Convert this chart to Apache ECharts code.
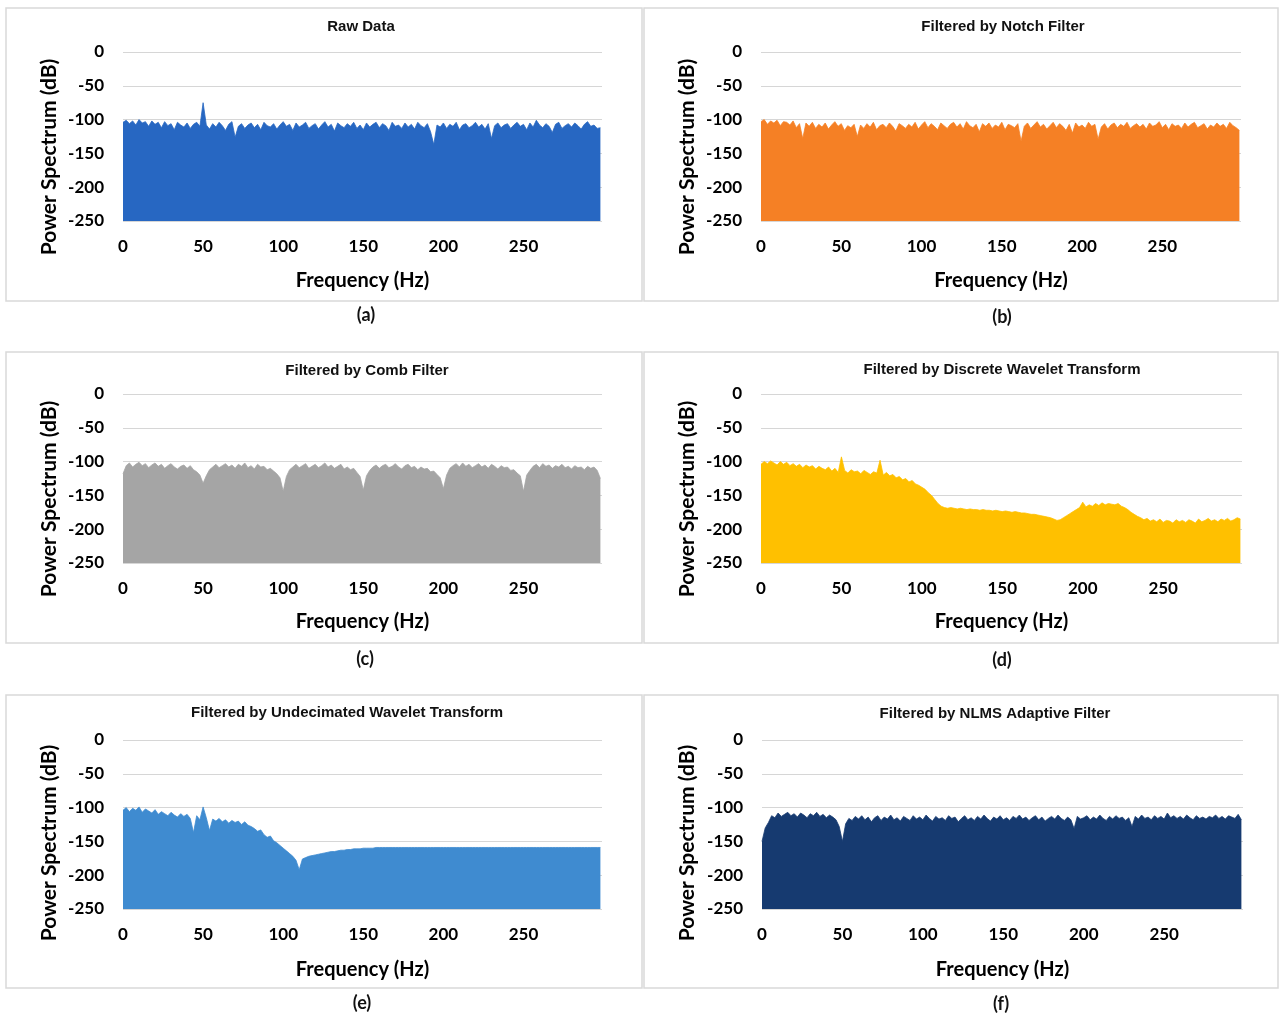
<!DOCTYPE html>
<html>
<head>
<meta charset="utf-8">
<script src="https://cdn.jsdelivr.net/npm/echarts@6/dist/echarts.min.js"></script>
<style>
html,body{margin:0;padding:0;background:#fff;}
#c{width:1279px;height:1017px;}
</style>
</head>
<body>
<div id="c"></div>
<script>
// Frequency bins (Hz)
const freq = [0,2,4,6,8,10,12,14,16,18,20,22,24,26,28,30,32,34,36,38,40,42,44,46,48,50,52,54,56,58,
60,62,64,66,68,70,72,74,76,78,80,82,84,86,88,90,92,94,96,98,100,102,104,106,108,110,112,114,116,118,
120,122,124,126,128,130,132,134,136,138,140,142,144,146,148,150,152,154,156,158,160,162,164,166,168,170,172,174,176,178,
180,182,184,186,188,190,192,194,196,198,200,202,204,206,208,210,212,214,216,218,220,222,224,226,228,230,232,234,236,238,
240,242,244,246,248,250,252,254,256,258,260,262,264,266,268,270,272,274,276,278,280,282,284,286,288,290,292,294,296,298];

const rawData = [-104,-101,-106,-102,-108,-100,-105,-103,-110,-102,
-107,-104,-112,-103,-109,-106,-115,-104,-108,-111,
-105,-113,-107,-104,-110,-75,-108,-114,-106,-111,
-104,-109,-116,-107,-103,-126,-110,-106,-113,-108,
-105,-112,-107,-115,-104,-109,-111,-106,-114,-108,
-103,-110,-107,-116,-105,-111,-108,-104,-113,-109,
-106,-114,-108,-103,-111,-107,-117,-105,-109,-112,
-106,-110,-104,-113,-108,-115,-105,-111,-107,-104,
-112,-106,-109,-116,-104,-110,-108,-113,-105,-111,
-107,-114,-104,-109,-112,-106,-118,-137,-108,-111,
-105,-113,-107,-110,-104,-115,-108,-106,-112,-109,
-104,-111,-107,-114,-106,-128,-109,-105,-112,-108,
-106,-113,-108,-104,-110,-107,-115,-105,-111,-101,
-108,-112,-106,-110,-119,-107,-104,-113,-109,-106,
-111,-105,-109,-114,-107,-103,-110,-108,-113,-112];

const notchData = [-103,-100,-107,-102,-105,-101,-109,-103,-104,-108,
-102,-112,-106,-128,-105,-110,-104,-113,-107,-111,
-105,-114,-108,-103,-110,-106,-116,-109,-112,-107,
-125,-108,-113,-106,-111,-104,-115,-109,-107,-112,
-105,-110,-117,-106,-109,-113,-107,-111,-104,-114,
-108,-103,-112,-106,-110,-115,-105,-109,-113,-107,
-104,-111,-106,-114,-103,-109,-112,-107,-118,-106,
-110,-105,-113,-108,-111,-104,-115,-107,-109,-112,
-106,-132,-110,-105,-113,-108,-103,-111,-107,-114,
-109,-104,-112,-106,-110,-116,-107,-120,-105,-111,
-108,-113,-104,-110,-107,-129,-111,-106,-114,-108,
-105,-112,-107,-110,-104,-113,-109,-106,-111,-107,
-114,-105,-110,-108,-103,-112,-107,-115,-106,-110,
-108,-113,-105,-111,-107,-104,-112,-109,-106,-114,
-108,-111,-105,-110,-107,-113,-104,-109,-112,-116];

const combData = [-118,-106,-102,-108,-104,-101,-106,-103,-109,-105,
-102,-107,-104,-110,-106,-103,-108,-111,-107,-105,
-110,-106,-112,-115,-120,-132,-121,-112,-108,-104,
-109,-106,-103,-108,-105,-110,-104,-107,-102,-109,
-106,-111,-104,-108,-107,-112,-110,-114,-118,-124,
-144,-122,-112,-108,-104,-109,-106,-103,-110,-107,
-104,-109,-106,-102,-108,-105,-110,-107,-104,-111,
-108,-112,-110,-116,-122,-142,-121,-113,-108,-105,
-110,-106,-104,-109,-107,-103,-108,-111,-106,-104,
-109,-107,-112,-108,-111,-110,-115,-114,-119,-124,
-140,-120,-110,-106,-103,-108,-102,-107,-104,-109,
-106,-103,-108,-105,-110,-104,-107,-111,-106,-109,
-108,-113,-112,-117,-121,-144,-120,-113,-107,-104,
-109,-103,-107,-105,-110,-106,-108,-104,-109,-107,
-111,-106,-109,-108,-112,-107,-110,-108,-113,-125];

const dwtData = [-104,-100,-103,-99,-102,-105,-100,-104,-101,-106,
-103,-107,-104,-109,-105,-108,-106,-111,-107,-110,
-112,-108,-114,-110,-116,-93,-113,-117,-112,-115,
-114,-118,-113,-116,-119,-115,-117,-98,-120,-116,
-121,-119,-124,-122,-127,-125,-130,-128,-133,-135,
-138,-141,-146,-150,-156,-162,-166,-168,-169,-168,
-169,-170,-169,-170,-171,-170,-171,-171,-172,-171,
-172,-172,-173,-172,-173,-174,-173,-174,-175,-174,
-175,-176,-176,-177,-178,-178,-179,-180,-181,-182,
-183,-185,-187,-186,-183,-180,-177,-174,-171,-168,
-160,-167,-164,-166,-162,-165,-161,-164,-162,-163,
-164,-162,-166,-168,-171,-175,-178,-181,-183,-186,
-184,-188,-186,-189,-185,-190,-187,-188,-191,-186,
-189,-187,-190,-186,-188,-191,-185,-189,-187,-184,
-188,-186,-189,-185,-187,-184,-188,-186,-183,-185];

const uwtData = [-104,-100,-106,-101,-104,-99,-107,-102,-105,-108,
-103,-110,-106,-109,-112,-107,-111,-114,-109,-113,
-110,-116,-137,-112,-118,-99,-115,-134,-117,-120,
-116,-121,-118,-123,-119,-122,-120,-125,-121,-126,
-128,-131,-135,-133,-140,-144,-142,-149,-152,-156,
-160,-164,-168,-172,-178,-192,-176,-174,-172,-171,
-170,-169,-168,-167,-166,-165,-165,-164,-163,-163,
-162,-162,-161,-161,-161,-160,-160,-160,-160,-159,
-159,-159,-159,-159,-159,-159,-159,-159,-159,-159,
-159,-159,-159,-159,-159,-159,-159,-159,-159,-159,
-159,-159,-159,-159,-159,-159,-159,-159,-159,-159,
-159,-159,-159,-159,-159,-159,-159,-159,-159,-159,
-159,-159,-159,-159,-159,-159,-159,-159,-159,-159,
-159,-159,-159,-159,-159,-159,-159,-159,-159,-159,
-159,-159,-159,-159,-159,-159,-159,-159,-159,-159];

const nlmsData = [-150,-130,-122,-112,-115,-108,-113,-110,-107,-112,
-109,-114,-108,-111,-115,-109,-112,-107,-113,-110,
-115,-111,-114,-118,-128,-150,-124,-116,-119,-113,
-117,-112,-118,-114,-121,-115,-112,-119,-114,-117,
-111,-118,-115,-120,-113,-116,-119,-112,-117,-114,
-118,-111,-116,-120,-113,-117,-115,-119,-112,-116,
-114,-121,-116,-112,-118,-115,-119,-113,-117,-111,
-116,-120,-114,-117,-112,-118,-115,-119,-113,-116,
-111,-117,-114,-119,-115,-112,-118,-114,-120,-116,
-113,-117,-111,-116,-119,-114,-118,-131,-113,-117,
-115,-112,-118,-114,-117,-111,-116,-119,-113,-117,
-112,-116,-114,-119,-115,-128,-113,-117,-111,-116,
-114,-118,-112,-116,-113,-117,-108,-115,-112,-116,
-113,-117,-111,-115,-118,-112,-116,-114,-117,-113,
-115,-111,-116,-113,-117,-112,-114,-116,-110,-118];

const yTicks = [0,-50,-100,-150,-200,-250];
const xTicks = [0,50,100,150,200,250];

const panelTitles = ['Raw Data','Filtered by Notch Filter','Filtered by Comb Filter',
  'Filtered by Discrete Wavelet Transform','Filtered by Undecimated Wavelet Transform','Filtered by NLMS Adaptive Filter'];
const captions = ['(a)','(b)','(c)','(d)','(e)','(f)'];
const seriesList = [rawData, notchData, combData, dwtData, uwtData, nlmsData];
const colors = ['#2767c2','#f58025','#a5a5a5','#ffc000','#3f8bd0','#163a70'];

// layout
const grids = [
  {left:123, top:52, width:479, height:169},
  {left:761, top:52, width:480, height:169},
  {left:123, top:394, width:479, height:169},
  {left:761, top:394, width:481, height:169},
  {left:123, top:740, width:479, height:169},
  {left:762, top:740, width:481, height:169}
];
const titleCenter = [[361,25],[1003,25],[367,369],[1002,368],[347,711],[995,712]];
const capPos = [[366,315],[1002,317],[365,659],[1002,660],[362,1003],[1001,1004]];
const boxes = [[6,8,636,293],[644,8,634,293],[6,352,636,291],[644,352,634,291],[6,695,636,293],[644,695,634,293]];
const yNamePos = [[49,157],[687,157],[49,499],[687,499],[49,843],[687,843]];
const xNameY = [281,281,622,622,970,970];

const FONT = 'Lato, "Open Sans", sans-serif';
const option = {
  animation:false,
  backgroundColor:'#fff',
  title: panelTitles.map((t,i)=>({
    text:t, left:titleCenter[i][0]-5, top:titleCenter[i][1]-11, textAlign:'center',
    textStyle:{fontFamily:'"Liberation Sans", Arial, sans-serif', fontWeight:'bold', fontSize:15, color:'#111'}
  })),
  grid: grids,
  xAxis: grids.map((g,i)=>({
    type:'value', gridIndex:i, min:0, max:299, interval:50,
    axisLine:{show:false}, axisTick:{show:false}, splitLine:{show:false},
    axisLabel:{fontFamily:FONT, fontWeight:'bold', fontSize:17, color:'#000', margin:17, showMaxLabel:false,
      formatter: v => xTicks.indexOf(v) >= 0 ? String(v) : ''}
  })),
  yAxis: grids.map((g,i)=>({
    type:'value', gridIndex:i, min:-250, max:0, interval:50,
    axisLine:{show:false}, axisTick:{show:false},
    splitLine:{show:true, lineStyle:{color:'#d6d6d6', width:1.2}},
    axisLabel:{fontFamily:FONT, fontWeight:'bold', fontSize:17, color:'#000', margin:19,
      formatter: v => yTicks.indexOf(v) >= 0 ? String(v) : ''}
  })),
  series: seriesList.map((d,i)=>({
    type:'line', xAxisIndex:i, yAxisIndex:i, showSymbol:false, symbol:'none',
    data: freq.map((f,k)=>[f,d[k]]),
    lineStyle:{color:colors[i], width:0.8},
    areaStyle:{color:colors[i], opacity:1, origin:'start'},
    silent:true
  })),
  graphic: [].concat(
    boxes.map(b=>({type:'rect', shape:{x:b[0], y:b[1], width:b[2], height:b[3]},
      style:{fill:'none', stroke:'#d9d9d9', lineWidth:1.5}, silent:true, z:-1})),
    captions.map((c,i)=>({type:'text', x:capPos[i][0], y:capPos[i][1],
      style:{text:c, fontFamily:FONT, fontSize:18, fontWeight:'bold', fill:'#111', align:'center', verticalAlign:'middle'}})),
    yNamePos.map(p=>({type:'text', x:p[0], y:p[1], rotation:Math.PI/2,
      style:{text:'Power Spectrum (dB)', fontFamily:FONT, fontSize:21, fontWeight:'bold', fill:'#000', align:'center', verticalAlign:'middle'}})),
    grids.map((g,i)=>({type:'text', x:g.left + g.width/2, y:xNameY[i],
      style:{text:'Frequency (Hz)', fontFamily:FONT, fontSize:20, fontWeight:'bold', fill:'#000', align:'center', verticalAlign:'middle'}}))
  )
};
const chart = echarts.init(document.getElementById('c'));
chart.setOption(option);
</script>
</body>
</html>
